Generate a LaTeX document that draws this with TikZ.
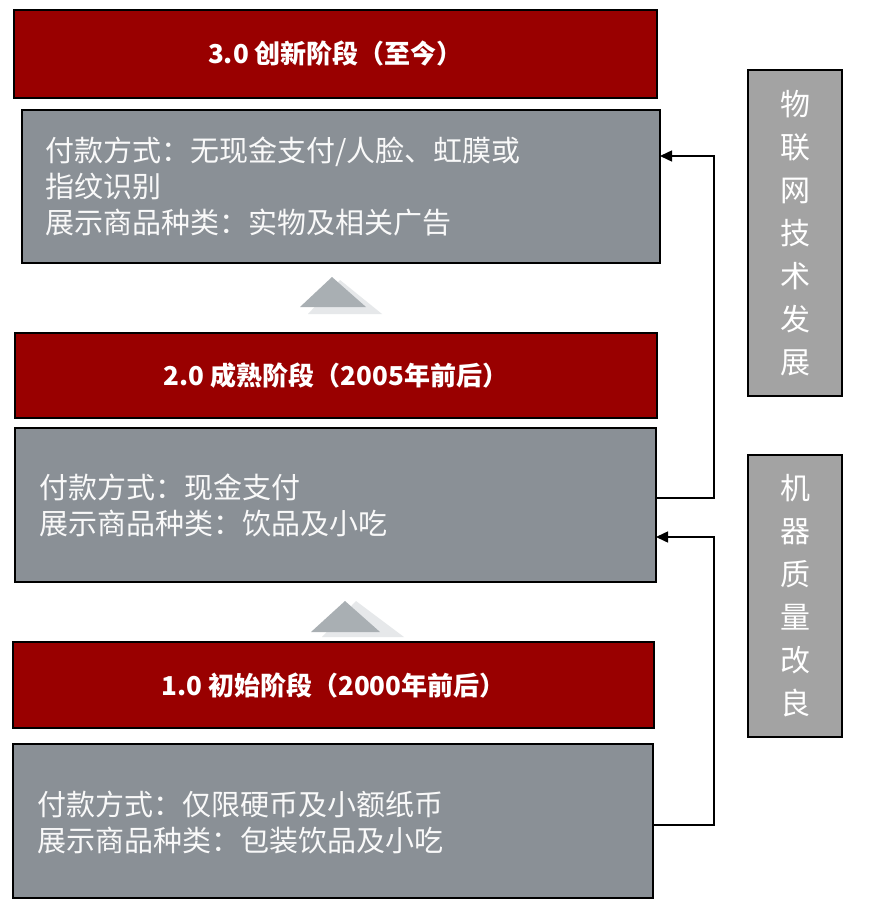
\documentclass[tikz,border=0pt]{standalone}
\usepackage{fontspec}
\setmainfont{Noto Sans CJK SC}
\usetikzlibrary{arrows.meta}
\definecolor{rd}{HTML}{990000}
\definecolor{gr}{HTML}{8A9096}
\definecolor{sg}{HTML}{A3A3A3}
\definecolor{tri}{HTML}{A9AFB3}
\definecolor{trl}{HTML}{E6E8EA}
\begin{document}
\begin{tikzpicture}[x=1pt,y=-1pt,
  redbox/.style={draw=black,line width=1.5pt,fill=rd},
  graybox/.style={draw=black,line width=1.5pt,fill=gr},
  sidebox/.style={draw=black,line width=1.2pt,fill=sg},
  ttl/.style={text=white,font=\fontsize{26}{30}\selectfont\bfseries},
  body/.style={text=white!95!gray,font=\fontsize{29}{36}\selectfont,align=left,anchor=west},
  side/.style={text=white,font=\fontsize{30}{43}\selectfont,align=center},
  conn/.style={line width=1.5pt,-{Triangle[length=12pt,width=11pt]}}]
\useasboundingbox (0,0) rectangle (880,912);
\fill[white] (0,0) rectangle (880,912);
% stage 3
\draw[redbox] (14,10) rectangle (657,98);
\node[ttl] (t3) at (335.5,54) {3.0 创新阶段（至今）};
\draw[graybox] (22,110) rectangle (660,263);
\coordinate (g3r) at (660,156);
\node[body] (b3) at (42,186) {付款方式：无现金支付/人脸、虹膜或\\指纹识别\\展示商品种类：实物及相关广告};
% triangle 1
\fill[trl] (340,280) -- (382,314) -- (308,314) -- cycle;
\fill[tri] (332,277) -- (366,307) -- (300,307) -- cycle;
% stage 2
\draw[redbox] (15,333) rectangle (657,418);
\node[ttl] (t2) at (336,376) {2.0 成熟阶段（2005年前后）};
\draw[graybox] (15,428) rectangle (656,582);
\coordinate (g2a) at (656,498);
\coordinate (g2r) at (656,537);
\node[body] (b2) at (36,505) {付款方式：现金支付\\展示商品种类：饮品及小吃};
% triangle 2
\fill[trl] (356,601) -- (404,637) -- (322,637) -- cycle;
\fill[tri] (345,601) -- (380,632) -- (311,632) -- cycle;
% stage 1
\draw[redbox] (13,642) rectangle (654,728);
\node[ttl] (t1) at (333.5,686) {1.0 初始阶段（2000年前后）};
\draw[graybox] (13,744) rectangle (653,898);
\coordinate (g1a) at (653,825);
\node[body] (b1) at (34,822) {付款方式：仅限硬币及小额纸币\\展示商品种类：包装饮品及小吃};
% side boxes
\draw[sidebox] (748,70) rectangle (842,396);
\node[side] (s1) at (795,233) {物\\联\\网\\技\\术\\发\\展};
\draw[sidebox] (748,455) rectangle (842,737);
\node[side] (s2) at (795,596) {机\\器\\质\\量\\改\\良};
% connectors
\draw[conn] (g2a) -- (714,498) -- (714,156) -- (g3r);
\draw[conn] (g1a) -- (714,825) -- (714,537) -- (g2r);
\end{tikzpicture}
\end{document}
